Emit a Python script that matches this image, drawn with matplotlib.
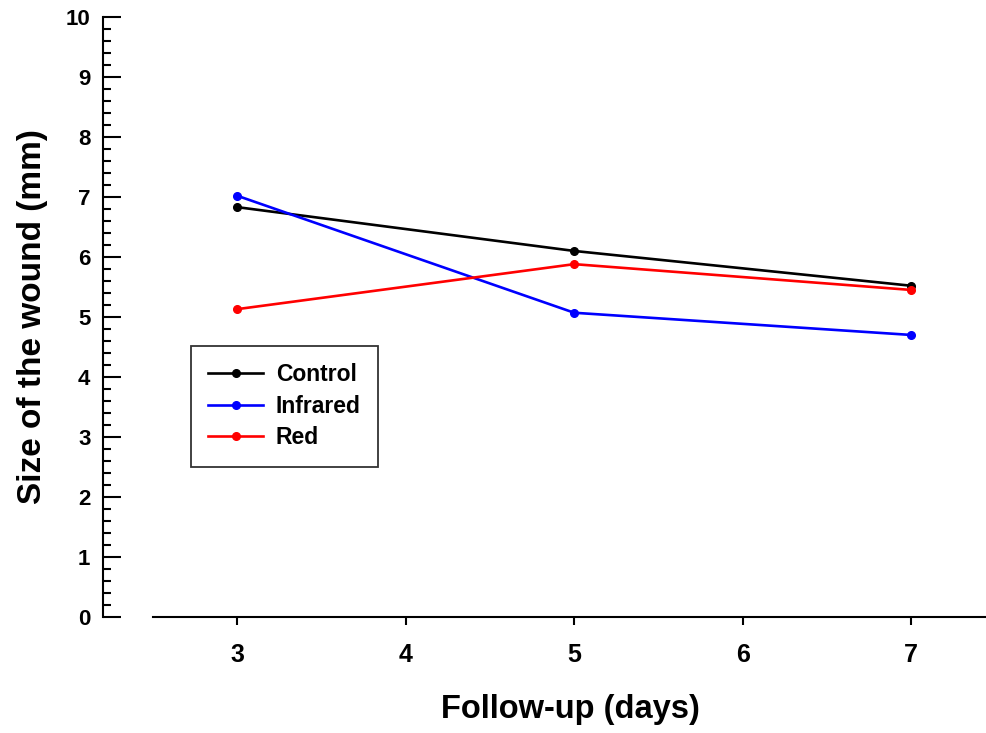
import matplotlib
matplotlib.use("Agg")
import matplotlib.pyplot as plt
from matplotlib.ticker import MultipleLocator

plt.rcParams['font.family'] = ['Liberation Sans', 'DejaVu Sans']
plt.rcParams['font.weight'] = 'bold'

days = [3, 5, 7]
control = [6.83, 6.10, 5.52]
infrared = [7.02, 5.07, 4.70]
red = [5.13, 5.88, 5.45]

fig = plt.figure(figsize=(9.87, 7.33), dpi=100)
ax = fig.add_axes([0.155, 0.1583, 0.845, 0.8186])

ax.plot(days, control, "k-", marker="o", ms=5.5, lw=1.9, label="Control")
ax.plot(days, infrared, "-", color="#0000ff", marker="o", ms=5.5, lw=1.9, label="Infrared")
ax.plot(days, red, "-", color="#ff0000", marker="o", ms=5.5, lw=1.9, label="Red")

ax.set_xlim(2.5, 7.45)
ax.set_ylim(0, 10)
ax.spines['top'].set_visible(False)
ax.spines['right'].set_visible(False)
ax.spines['left'].set_position(('outward', 36))
ax.spines['left'].set_linewidth(1.5)
ax.spines['bottom'].set_linewidth(1.5)

ax.yaxis.set_major_locator(MultipleLocator(1))
ax.yaxis.set_minor_locator(MultipleLocator(0.2))
ax.xaxis.set_major_locator(MultipleLocator(1))
ax.tick_params(axis='y', which='major', direction='in', length=13, width=1.5, labelsize=16, pad=9)
ax.tick_params(axis='y', which='minor', direction='in', length=6, width=1.5)
ax.tick_params(axis='x', which='major', direction='out', length=6, width=1.5, labelsize=18, pad=13)

ax.set_xlabel("Follow-up (days)", fontsize=23.5, fontweight='bold', labelpad=19)
ax.set_ylabel("Size of the wound (mm)", fontsize=24, fontweight='bold', labelpad=13)

leg = ax.legend(loc="upper left", bbox_to_anchor=(0.0456, 0.452), borderaxespad=0,
                fancybox=False, edgecolor='black', fontsize=16.5, handlelength=2.4,
                labelspacing=0.38, borderpad=0.75, handletextpad=0.55)
leg.get_frame().set_linewidth(1.3)
for t in leg.get_texts():
    t.set_fontweight('bold')

fig.savefig("out.png", dpi=100)
